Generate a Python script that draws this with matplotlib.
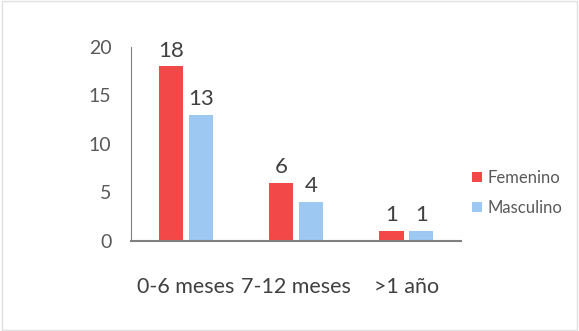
import matplotlib
matplotlib.use("Agg")
import matplotlib.pyplot as plt
import numpy as np

# data
categorias = ['0-6 meses', '7-12 meses', '>1 año']
femenino = [18, 6, 1]
masculino = [13, 4, 1]

plt.rcParams['font.family'] = ['Lato', 'DejaVu Sans']

fig = plt.figure(figsize=(5.79, 3.31), dpi=100)
ax = fig.add_axes([0.226, 0.272, 0.571, 0.586])

x = np.arange(len(categorias))
w = 0.22
b1 = ax.bar(x - 0.135, femenino, w, color='#f24848', label='Femenino')
b2 = ax.bar(x + 0.135, masculino, w, color='#9dc8f2', label='Masculino')

for bars in (b1, b2):
    for r in bars:
        ax.text(r.get_x() + r.get_width() / 2, r.get_height() + 0.6,
                '%d' % r.get_height(), ha='center', va='bottom',
                fontsize=16, color='#404040')

ax.set_xlim(-0.5, 2.5)
ax.set_ylim(0, 20)
ax.set_yticks([0, 5, 10, 15, 20])
ax.set_xticks(x)
ax.set_xticklabels(categorias)
ax.tick_params(axis='both', length=0, colors='#595959', labelsize=14)
ax.tick_params(axis='x', labelsize=15.5, colors='#404040', pad=26)
ax.tick_params(axis='y', pad=14)
for s in ('top', 'right'):
    ax.spines[s].set_visible(False)
ax.spines['left'].set_color('#808080')
ax.spines['bottom'].set_color('#808080')
ax.spines['bottom'].set_linewidth(1.5)

leg = fig.legend(handles=[b1, b2], loc='center left', bbox_to_anchor=(0.79, 0.417),
                 frameon=False, fontsize=12, handlelength=0.6, handleheight=0.6,
                 handletextpad=0.3, labelspacing=0.85, labelcolor='#595959')

# faint outer border
fig.patches.append(plt.Rectangle((0.003, 0.003), 0.994, 0.994, transform=fig.transFigure,
                                 fill=False, edgecolor='#e0e0e0', linewidth=1))

fig.savefig('out.png', dpi=100)
